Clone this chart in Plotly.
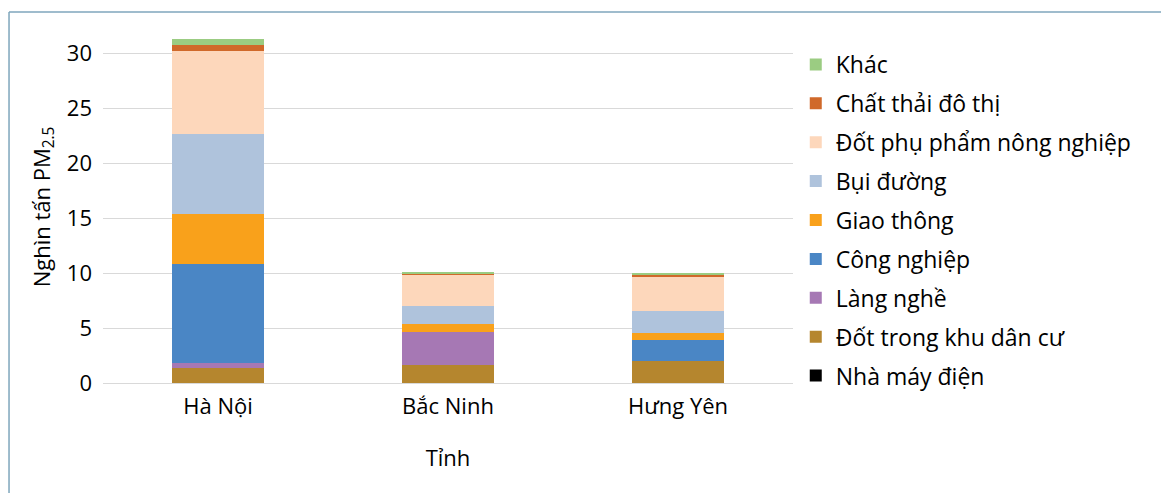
import plotly.graph_objects as go

# Provinces on the x axis
provinces = ["Hà Nội", "Bắc Ninh", "Hưng Yên"]

# Emission by source (thousand tonnes PM2.5), stacked bottom to top
nha_may_dien = [0.0, 0.0, 0.0]
dot_khu_dan_cu = [1.33, 1.64, 2.03]
lang_nghe = [0.52, 3.03, 0.0]
cong_nghiep = [8.95, 0.0, 1.88]
giao_thong = [4.60, 0.69, 0.67]
bui_duong = [7.24, 1.67, 1.97]
dot_phu_pham = [7.56, 2.85, 3.12]
chat_thai_do_thi = [0.50, 0.05, 0.15]
khac = [0.57, 0.18, 0.15]

series = [
    ("Nhà máy điện", nha_may_dien, "#000000"),
    ("Đốt trong khu dân cư", dot_khu_dan_cu, "#B5862E"),
    ("Làng nghề", lang_nghe, "#A678B4"),
    ("Công nghiệp", cong_nghiep, "#4A86C5"),
    ("Giao thông", giao_thong, "#F9A11B"),
    ("Bụi đường", bui_duong, "#AFC3DC"),
    ("Đốt phụ phẩm nông nghiệp", dot_phu_pham, "#FDD7BB"),
    ("Chất thải đô thị", chat_thai_do_thi, "#D0692A"),
    ("Khác", khac, "#9BCC82"),
]

FONT = "Open Sans"

fig = go.Figure()
n = len(series)
for i, (name, vals, color) in enumerate(series):
    fig.add_trace(go.Bar(
        x=provinces, y=vals, name=name, legendgroup=name,
        legendrank=n - i,  # top of the stack listed first
        marker=dict(color=color, line=dict(width=0)),
    ))

fig.update_layout(
    width=1161, height=493,
    barmode="stack", bargap=0.6,
    plot_bgcolor="white", paper_bgcolor="white",
    margin=dict(l=103, r=368, t=31, b=110),
    font=dict(family=FONT, size=22, color="#000000"),
    showlegend=True,
    legend=dict(
        traceorder="grouped", tracegroupgap=6,
        x=1.004, xanchor="left", y=0.966, yanchor="top",
        font=dict(family=FONT, size=23, color="#000000"),
        itemwidth=30, bgcolor="rgba(0,0,0,0)",
        maxheight=480,
    ),
    xaxis=dict(
        title=dict(text="Tỉnh", font=dict(size=22), standoff=31),
        showgrid=False, showline=False, ticks="",
        tickfont=dict(size=22), ticklabelstandoff=8,
    ),
    yaxis=dict(
        title=dict(text="Nghìn tấn PM<sub>2.5</sub>", font=dict(size=22), standoff=10),
        range=[0, 32], tickvals=[0, 5, 10, 15, 20, 25, 30],
        showgrid=True, gridcolor="#D9D9D9", gridwidth=1,
        zeroline=True, zerolinecolor="#D9D9D9", zerolinewidth=1,
        showline=False, ticks="", ticklabelstandoff=10,
        tickfont=dict(size=22),
    ),
    shapes=[
        dict(type="line", xref="paper", yref="paper",
             x0=-0.1362, x1=1.54, y0=1.054, y1=1.054,
             line=dict(color="#7FA6BC", width=1.5)),
        dict(type="line", xref="paper", yref="paper",
             x0=-0.1362, x1=-0.1362, y0=1.054, y1=-0.32,
             line=dict(color="#7FA6BC", width=1.5)),
    ],
)

fig.write_html("out.html")
